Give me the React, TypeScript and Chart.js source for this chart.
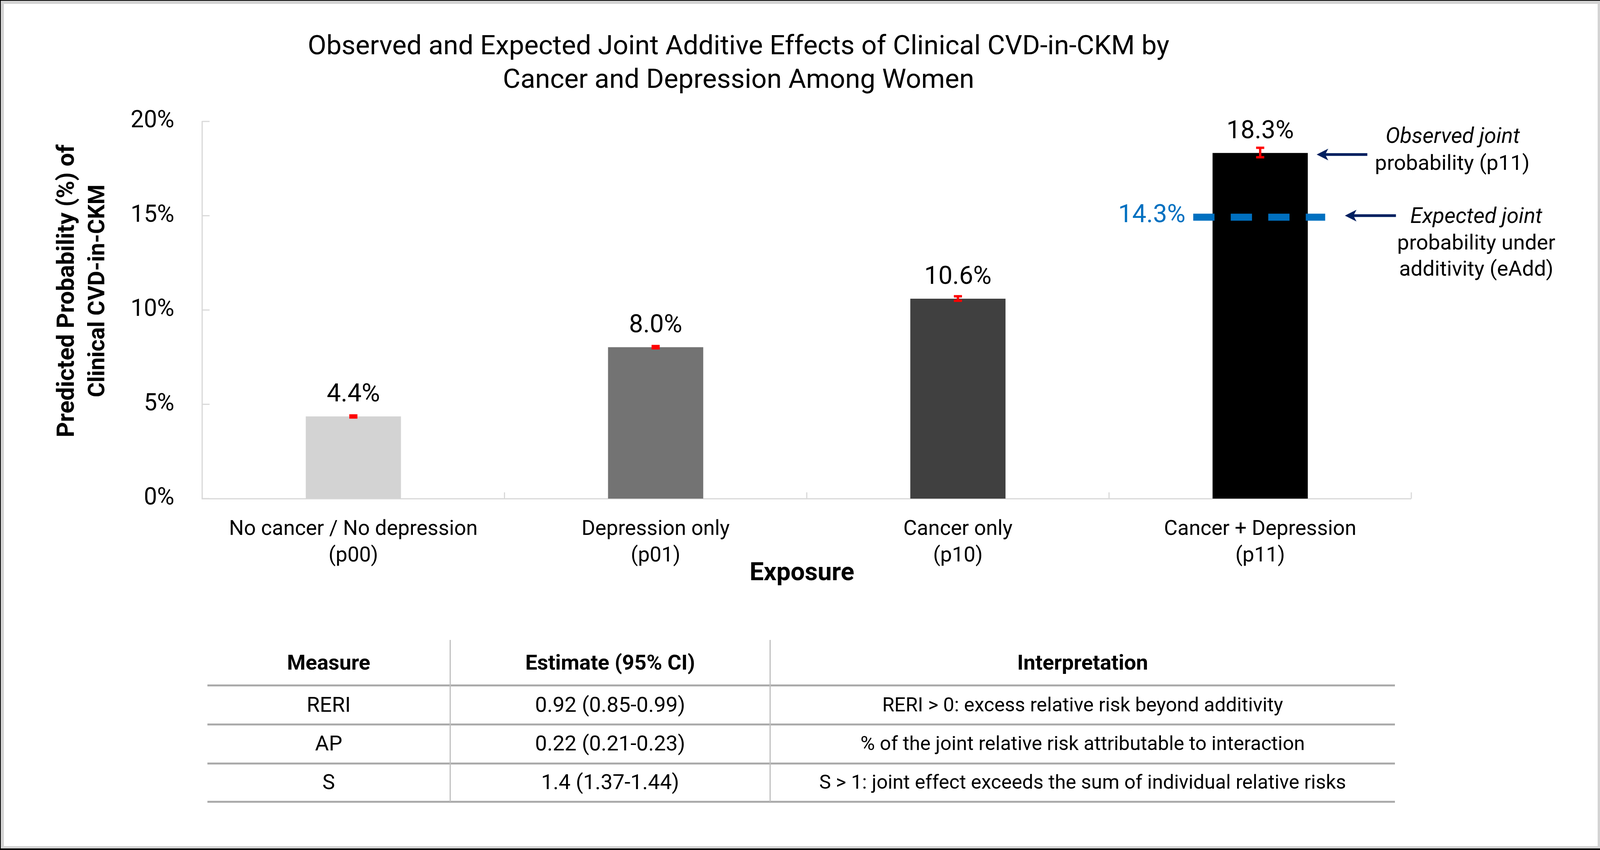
import React, { useEffect, useRef } from "react";
import { Chart, registerables } from "chart.js";

Chart.register(...registerables);

// ---------- data ----------
const categories: string[][] = [
  ["No cancer / No depression", "(p00)"],
  ["Depression only", "(p01)"],
  ["Cancer only", "(p10)"],
  ["Cancer + Depression", "(p11)"],
];
const predicted = [4.36, 8.03, 10.6, 18.33];
const ciLow = [4.3, 7.97, 10.49, 18.1];
const ciHigh = [4.41, 8.09, 10.73, 18.6];
const barColors = ["#D3D3D3", "#737373", "#404040", "#000000"];
const yMin = 0;
const yMax = 20;
const yStep = 5;
const expectedLineValue = 14.92;
const expectedLabel = "14.3%";
const titleLines = [
  "Observed and Expected Joint Additive Effects of Clinical CVD-in-CKM by",
  "Cancer and Depression Among Women",
];
const yTitleLines = ["Predicted Probability (%) of", "Clinical CVD-in-CKM"];
const xTitle = "Exposure";
const observedNote = ["Observed joint", "probability (p11)"];
const expectedNote = ["Expected joint", "probability under", "additivity (eAdd)"];

const tableHeader = ["Measure", "Estimate (95% CI)", "Interpretation"];
const measures = ["RERI", "AP", "S"];
const estimates = ["0.92 (0.85-0.99)", "0.22 (0.21-0.23)", "1.4 (1.37-1.44)"];
const interpretations = [
  "RERI > 0: excess relative risk beyond additivity",
  "% of the joint relative risk attributable to interaction",
  "S > 1: joint effect exceeds the sum of individual relative risks",
];

// ---------- layout / styles ----------
const FONT = "Roboto";
const REF_W = 4138;
const H = 2177;
const PAGE_W = typeof window !== "undefined" && window.innerWidth ? Math.min(window.innerWidth, REF_W) : REF_W;
const SX = PAGE_W / REF_W;
const X = (v: number) => v * SX;
const F = (v: number) => Math.round(v * SX * 10) / 10;

const CANVAS_H = 1600;
const AREA_TOP = 311;
const AREA_BOTTOM = 1277;
const AREA_LEFT = 523;
const AREA_RIGHT = 3650;
const X_AXIS_H = 200;
const AXIS_COLOR = "#D9D9D9";
const NAVY = "#002060";
const BLUE = "#0070C0";

function drawArrow(ctx: CanvasRenderingContext2D, xTail: number, xTip: number, y: number) {
  ctx.save();
  ctx.strokeStyle = NAVY;
  ctx.fillStyle = NAVY;
  ctx.lineWidth = 7;
  ctx.beginPath();
  ctx.moveTo(xTail, y);
  ctx.lineTo(xTip + X(20), y);
  ctx.stroke();
  ctx.beginPath();
  ctx.moveTo(xTip, y);
  ctx.lineTo(xTip + X(30), y - 15);
  ctx.lineTo(xTip + X(22), y);
  ctx.lineTo(xTip + X(30), y + 15);
  ctx.closePath();
  ctx.fill();
  ctx.restore();
}

const decorPlugin = {
  id: "decor",
  afterDatasetsDraw(chart: any) {
    const ctx: CanvasRenderingContext2D = chart.ctx;
    const ys = chart.scales.y;
    const area = chart.chartArea;
    const meta = chart.getDatasetMeta(0);

    ctx.save();
    // inner tick marks, y axis
    ctx.strokeStyle = AXIS_COLOR;
    ctx.lineWidth = 3;
    for (let v = yMin; v <= yMax; v += yStep) {
      const py = ys.getPixelForValue(v);
      ctx.beginPath();
      ctx.moveTo(area.left, py);
      ctx.lineTo(area.left + X(19), py);
      ctx.stroke();
    }
    // inner tick marks, x axis (category boundaries)
    const catW = (area.right - area.left) / categories.length;
    for (let i = 0; i <= categories.length; i++) {
      const px = area.left + i * catW;
      ctx.beginPath();
      ctx.moveTo(px, area.bottom);
      ctx.lineTo(px, area.bottom - 16);
      ctx.stroke();
    }

    // error bars + data labels
    meta.data.forEach((bar: any, i: number) => {
      const x = bar.x;
      const yHi = ys.getPixelForValue(ciHigh[i]);
      const yLo = ys.getPixelForValue(ciLow[i]);
      const cap = X(10.5);
      ctx.strokeStyle = "#FF0000";
      ctx.lineWidth = 6;
      ctx.lineCap = "butt";
      ctx.beginPath();
      ctx.moveTo(x, yHi);
      ctx.lineTo(x, yLo);
      ctx.moveTo(x - cap, yHi);
      ctx.lineTo(x + cap, yHi);
      ctx.moveTo(x - cap, yLo);
      ctx.lineTo(x + cap, yLo);
      ctx.stroke();

      ctx.fillStyle = "#000000";
      ctx.font = `${F(65)}px ${FONT}`;
      ctx.textAlign = "center";
      ctx.textBaseline = "alphabetic";
      ctx.fillText(predicted[i].toFixed(1) + "%", x, bar.y - 38);
    });

    // expected (additive) dashed line on the last bar
    const last: any = meta.data[meta.data.length - 1];
    const lastRight = last.x + last.width / 2;
    const lastLeft = last.x - last.width / 2;
    const ey = ys.getPixelForValue(expectedLineValue);
    const dashStart = lastLeft - X(50);
    const dashEnd = lastRight + X(45);
    ctx.strokeStyle = BLUE;
    ctx.lineWidth = 18;
    ctx.setLineDash([X(55), X(42)]);
    ctx.beginPath();
    ctx.moveTo(dashStart, ey);
    ctx.lineTo(dashEnd, ey);
    ctx.stroke();
    ctx.setLineDash([]);
    ctx.fillStyle = BLUE;
    ctx.font = `${F(65)}px ${FONT}`;
    ctx.textAlign = "right";
    ctx.textBaseline = "middle";
    ctx.fillText(expectedLabel, dashStart - X(20), ey - 3);

    // arrows
    const obsY = ys.getPixelForValue(predicted[predicted.length - 1]) + 4;
    drawArrow(ctx, lastRight + X(154), lastRight + X(23), obsY);
    drawArrow(ctx, dashEnd + X(183), dashEnd + X(51), ey - 4);

    // notes
    ctx.fillStyle = "#000000";
    ctx.textAlign = "center";
    ctx.textBaseline = "middle";
    ctx.font = `italic ${F(56)}px ${FONT}`;
    ctx.fillText(observedNote[0], X(3757), 352);
    ctx.font = `${F(55)}px ${FONT}`;
    ctx.fillText(observedNote[1], X(3756), 421);
    ctx.font = `italic ${F(56)}px ${FONT}`;
    ctx.fillText(expectedNote[0], X(3818), 557);
    ctx.font = `${F(55)}px ${FONT}`;
    ctx.fillText(expectedNote[1], X(3818), 625);
    ctx.fillText(expectedNote[2], X(3818), 692);

    // chart title
    ctx.font = `${F(70)}px ${FONT}`;
    ctx.fillText(titleLines[0], X(1910), 122);
    ctx.fillText(titleLines[1], X(1910), 208);

    // axis titles
    ctx.font = `bold ${F(65)}px ${FONT}`;
    ctx.fillText(xTitle, X(2074), 1470);
    const yTitleX = [176, 255];
    const yTitleSize = [61, 58.5];
    yTitleLines.forEach((t, i) => {
      ctx.save();
      ctx.font = `bold ${yTitleSize[i]}px ${FONT}`;
      ctx.translate(X(yTitleX[i]), 745);
      ctx.rotate(-Math.PI / 2);
      ctx.fillText(t, 0, 0);
      ctx.restore();
    });
    ctx.restore();
  },
};

function ChartCanvas() {
  const ref = useRef<HTMLCanvasElement | null>(null);
  useEffect(() => {
    if (!ref.current) return;
    const chart = new Chart(ref.current, {
      type: "bar",
      data: {
        labels: categories,
        datasets: [
          {
            data: predicted,
            backgroundColor: barColors,
            borderWidth: 0,
            barPercentage: 0.315,
            categoryPercentage: 1.0,
          },
        ],
      },
      options: {
        responsive: false,
        maintainAspectRatio: false,
        animation: false,
        devicePixelRatio: 1,
        layout: {
          padding: {
            top: AREA_TOP,
            left: 0,
            right: PAGE_W - X(AREA_RIGHT),
            bottom: CANVAS_H - AREA_BOTTOM - X_AXIS_H,
          },
        },
        plugins: {
          legend: { display: false },
          tooltip: { enabled: false },
          title: { display: false },
        },
        scales: {
          x: {
            type: "category",
            offset: true,
            grid: { display: false },
            border: { display: true, color: AXIS_COLOR, width: 3 },
            ticks: {
              color: "#000000",
              font: { family: FONT, size: F(54), lineHeight: 1.25 * (54 / F(54)) },
              padding: 38,
              maxRotation: 0,
              minRotation: 0,
              autoSkip: false,
            },
            afterFit: (scale: any) => {
              scale.height = X_AXIS_H;
            },
          },
          y: {
            type: "linear",
            min: yMin,
            max: yMax,
            grid: { display: false },
            border: { display: true, color: AXIS_COLOR, width: 3 },
            ticks: {
              stepSize: yStep,
              color: "#000000",
              font: { family: FONT, size: F(61) },
              padding: X(64),
              callback: (v: any) => `${v}%`,
            },
            afterFit: (scale: any) => {
              scale.width = X(AREA_LEFT);
            },
          },
        },
      },
      plugins: [decorPlugin],
    });
    return () => chart.destroy();
  }, []);
  return (
    <canvas
      ref={ref}
      width={PAGE_W}
      height={CANVAS_H}
      style={{ position: "absolute", left: 0, top: 0, width: PAGE_W, height: CANVAS_H }}
    />
  );
}

function Table() {
  const left = X(536);
  const right = X(3608);
  const colEdges = [536, 1164, 1992, 3608].map(X);
  const headerTop = 1639;
  const lineYs = [1755, 1855, 1955, 2053];
  const rowCenters = [1697, 1805, 1904, 2003];
  const rows = [tableHeader, ...measures.map((m, i) => [m, estimates[i], interpretations[i]])];
  const colSizes = [55, 55, 51];
  const els: React.ReactNode[] = [];
  lineYs.forEach((y, i) => {
    els.push(
      <div
        key={`h${i}`}
        style={{ position: "absolute", left, top: y - 2.5, width: right - left, height: 5, background: "#ABABAB" }}
      />
    );
  });
  [colEdges[1], colEdges[2]].forEach((x, i) => {
    els.push(
      <div
        key={`v${i}`}
        style={{
          position: "absolute",
          left: x - 1.5,
          top: headerTop,
          width: 3,
          height: lineYs[3] - headerTop,
          background: "#BFBFBF",
        }}
      />
    );
  });
  rows.forEach((r, ri) => {
    r.forEach((txt, ci) => {
      els.push(
        <div
          key={`t${ri}-${ci}`}
          style={{
            position: "absolute",
            left: colEdges[ci],
            width: colEdges[ci + 1] - colEdges[ci],
            top: rowCenters[ri] - 40,
            height: 80,
            lineHeight: "80px",
            textAlign: "center",
            fontFamily: FONT,
            fontSize: F(ri === 0 ? 55 : colSizes[ci]),
            fontWeight: ri === 0 ? 700 : 400,
            color: "#000",
            whiteSpace: "nowrap",
          }}
        >
          {txt}
        </div>
      );
    });
  });
  return <>{els}</>;
}

export default function App() {
  return (
    <div
      style={{
        position: "absolute",
        left: 0,
        top: 0,
        width: PAGE_W,
        height: H,
        background: "#000",
        overflow: "hidden",
      }}
    >
      <div
        style={{
          position: "absolute",
          left: 2,
          top: 2,
          width: PAGE_W - 2,
          height: H - 6,
          background: "#D3D3D3",
        }}
      />
      <div
        style={{
          position: "absolute",
          left: 10,
          top: 10,
          width: PAGE_W - 16,
          height: H - 20,
          background: "#FFFFFF",
        }}
      />
      <ChartCanvas />
      <Table />
    </div>
  );
}
